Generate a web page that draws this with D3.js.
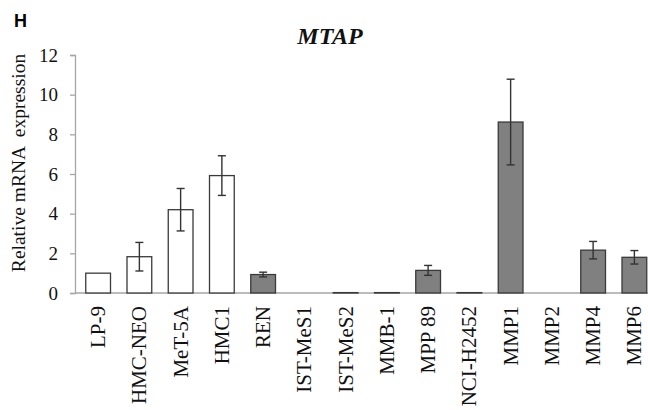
<!DOCTYPE html>
<html>
<head>
<meta charset="utf-8">
<script src="https://cdn.jsdelivr.net/npm/d3@7"></script>
<style>
  body { margin: 0; background: #fff; }
  svg { display: block; }
</style>
</head>
<body>
<div class="content"></div>
<script>
//--> Chart data
const cellLines = [
  "LP-9", "HMC-NEO", "MeT-5A", "HMC1", "REN", "IST-MeS1", "IST-MeS2",
  "MMB-1", "MPP 89", "NCI-H2452", "MMP1", "MMP2", "MMP4", "MMP6"
];
const expression = [1.0, 1.83, 4.2, 5.92, 0.93, 0, 0.02, 0.02, 1.14, 0.02, 8.62, 0, 2.16, 1.8];
const errors = [0, 0.72, 1.07, 1.0, 0.12, 0, 0, 0, 0.25, 0, 2.16, 0, 0.44, 0.34];
const isNormal = [true, true, true, true, false, false, false, false, false, false, false, false, false, false];
const yTicks = [0, 2, 4, 6, 8, 10, 12];

//--> Set up main elements
const width = 648;
const height = 410;
const axisX = 75;
const serif = "'Liberation Serif', 'Times New Roman', serif";

const svg = d3
  .select(".content")
  .append("svg")
  .attr("width", width)
  .attr("height", height);

const data = cellLines.map((name, i) => ({
  name,
  value: expression[i],
  err: errors[i],
  normal: isNormal[i],
}));

//--> Scales
const x = d3
  .scaleBand()
  .domain(cellLines)
  .range([77.5, 77.5 + 14 * 41.25])
  .paddingInner(0.4)
  .paddingOuter(0.2);

const y = d3.scaleLinear().domain([0, 12]).range([293, 55]);

//--> Y axis
const yAxis = svg
  .append("g")
  .attr("transform", `translate(${axisX},0)`)
  .call(d3.axisLeft(y).tickValues(yTicks).tickSize(5).tickPadding(12));

yAxis.select(".domain").attr("stroke", "#a6a6a6").attr("stroke-width", 1.3);
yAxis.selectAll(".tick line").attr("stroke", "#a6a6a6").attr("stroke-width", 1.3);
yAxis
  .selectAll(".tick text")
  .attr("fill", "#111")
  .style("font-family", serif)
  .style("font-size", "19px");

//--> Baseline
svg
  .append("line")
  .attr("x1", axisX)
  .attr("x2", width)
  .attr("y1", y(0))
  .attr("y2", y(0))
  .attr("stroke", "#a6a6a6")
  .attr("stroke-width", 1.3);

//--> Bars
svg
  .selectAll("rect.bar")
  .data(data)
  .join("rect")
  .attr("class", "bar")
  .attr("x", d => x(d.name))
  .attr("y", d => y(d.value))
  .attr("width", x.bandwidth())
  .attr("height", d => y(0) - y(d.value))
  .attr("fill", d => (d.normal ? "#ffffff" : "#808080"))
  .attr("stroke", "#3a3a3a")
  .attr("stroke-width", 1.3);

//--> Error bars
const errData = data.filter(d => d.err > 0);
const capHalf = 4;
const mid = d => x(d.name) + x.bandwidth() / 2;

const errG = svg
  .selectAll("g.err")
  .data(errData)
  .join("g")
  .attr("class", "err")
  .attr("stroke", "#333")
  .attr("stroke-width", 1.4);

errG
  .append("line")
  .attr("x1", mid)
  .attr("x2", mid)
  .attr("y1", d => y(d.value + d.err))
  .attr("y2", d => y(d.value - d.err));

errG
  .append("line")
  .attr("x1", d => mid(d) - capHalf)
  .attr("x2", d => mid(d) + capHalf)
  .attr("y1", d => y(d.value + d.err))
  .attr("y2", d => y(d.value + d.err));

errG
  .append("line")
  .attr("x1", d => mid(d) - capHalf)
  .attr("x2", d => mid(d) + capHalf)
  .attr("y1", d => y(d.value - d.err))
  .attr("y2", d => y(d.value - d.err));

//--> Category labels (rotated)
svg
  .selectAll("text.cat")
  .data(data)
  .join("text")
  .attr("class", "cat")
  .attr("transform", d => `translate(${mid(d) + 7},306) rotate(-90)`)
  .attr("text-anchor", "end")
  .attr("fill", "#111")
  .style("font-family", serif)
  .style("font-size", "21px")
  .text(d => d.name);

//--> Y axis title
svg
  .append("text")
  .attr("transform", "translate(25,163) rotate(-90)")
  .attr("text-anchor", "middle")
  .attr("fill", "#111")
  .style("font-family", serif)
  .style("font-size", "19.5px")
  .style("white-space", "pre")
  .text("Relative mRNA  expression");

//--> Title
svg
  .append("text")
  .attr("x", 330)
  .attr("y", 44)
  .attr("text-anchor", "middle")
  .attr("fill", "#111")
  .style("font-family", serif)
  .style("font-size", "24px")
  .style("font-weight", "bold")
  .style("font-style", "italic")
  .text("MTAP");

//--> Panel letter
svg
  .append("text")
  .attr("x", 14)
  .attr("y", 27)
  .attr("fill", "#000")
  .style("font-family", "'Liberation Sans', Arial, sans-serif")
  .style("font-size", "18px")
  .style("font-weight", "bold")
  .text("H");
</script>
</body>
</html>
